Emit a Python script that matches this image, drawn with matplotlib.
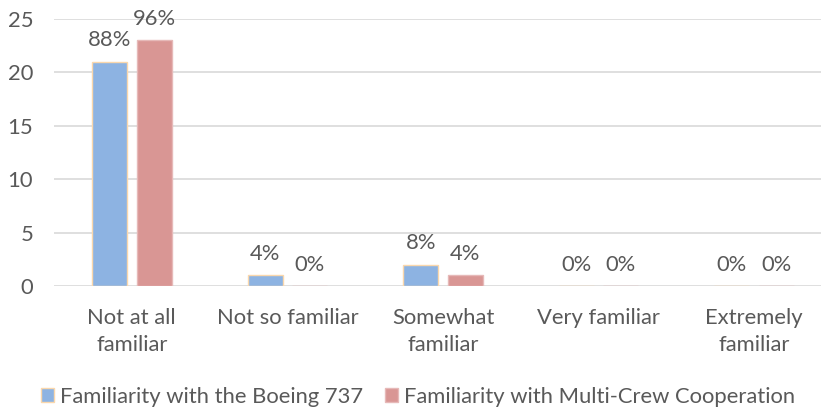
import matplotlib
matplotlib.use('Agg')
import matplotlib.pyplot as plt
import numpy as np

categories = ['Not at all\nfamiliar', 'Not so familiar', 'Somewhat\nfamiliar',
              'Very familiar', 'Extremely\nfamiliar']
boeing = [21, 1, 2, 0, 0]
mcc = [23, 0, 1, 0, 0]
boeing_pct = ['88%', '4%', '8%', '0%', '0%']
mcc_pct = ['96%', '0%', '4%', '0%', '0%']
series_names = ['Familiarity with the Boeing 737',
                'Familiarity with Multi-Crew Cooperation']

text_col = '#595959'
plt.rcParams['font.family'] = ['Lato', 'DejaVu Sans']
fs = 15.8

fig = plt.figure(figsize=(8.21, 4.08), dpi=100)
ax = fig.add_axes([54 / 821, 122 / 408, 778 / 821, 267 / 408])

x = np.arange(len(categories))
w = 0.225
off = 0.143
b1 = ax.bar(x - off, boeing, w, color='#8DB3E2', edgecolor='#FAD7AC',
            linewidth=1, label=series_names[0], zorder=3)
b2 = ax.bar(x + off, mcc, w, color='#D99694', edgecolor='#E6B9B8',
            linewidth=1, label=series_names[1], zorder=3)

for bars, labels in ((b1, boeing_pct), (b2, mcc_pct)):
    for rect, lab in zip(bars, labels):
        ax.annotate(lab, (rect.get_x() + rect.get_width() / 2, rect.get_height()),
                    xytext=(0, 11), textcoords='offset points',
                    ha='center', va='baseline', color=text_col, fontsize=fs)

ax.set_xlim(-0.5, len(categories) - 0.5)
ax.set_ylim(0, 25)
ax.set_yticks(range(0, 26, 5))
ax.set_xticks(x)
ax.set_xticklabels(categories, color=text_col, linespacing=1.45, fontsize=fs)
ax.tick_params(axis='y', colors=text_col, length=0, pad=15, labelsize=fs)
ax.tick_params(axis='x', colors=text_col, length=0, pad=16)
ax.grid(axis='y', color='#D9D9D9', linewidth=1.2, zorder=0)
for s in ax.spines.values():
    s.set_visible(False)

fig.legend(loc='lower center', bbox_to_anchor=(418 / 821, -0.045), ncol=2,
           frameon=False, handlelength=0.6, handleheight=0.65,
           handletextpad=0.25, columnspacing=1.0, labelcolor=text_col,
           fontsize=fs)

fig.savefig('out.png', dpi=100)
